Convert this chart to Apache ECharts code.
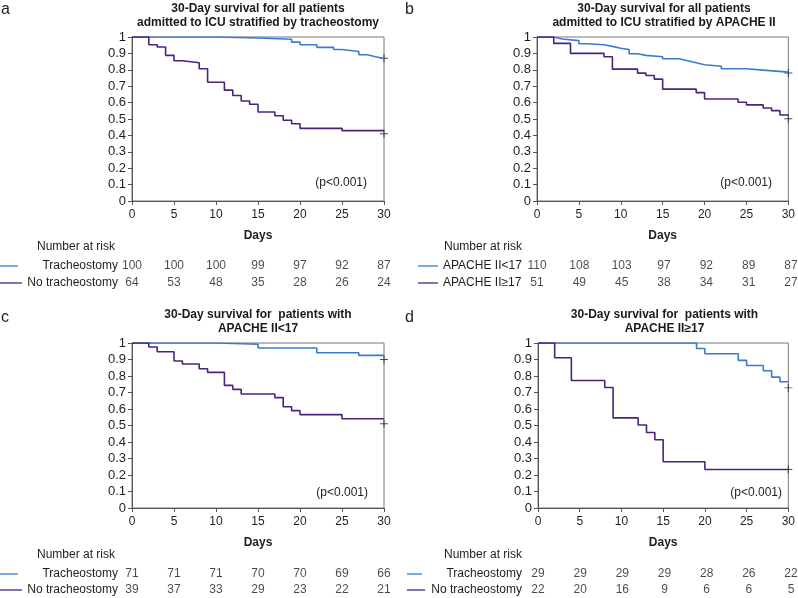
<!DOCTYPE html>
<html><head><meta charset="utf-8">
<script src="https://cdn.jsdelivr.net/npm/echarts@6/dist/echarts.min.js"></script>
<style>html,body{margin:0;padding:0;background:#fff}#c{width:798px;height:598px}</style>
</head><body><div id="c"></div>
<script>
// ---- data ----
const riskDays = [0, 5, 10, 15, 20, 25, 30];
// panel a
const aTrachT = [0, 10, 15, 19, 20, 22, 24, 25, 27, 28, 29, 30];
const aTrachS = [1, 0.994, 0.986, 0.969, 0.953, 0.937, 0.924, 0.912, 0.892, 0.880, 0.869, 0.869];
const aNoT = [0, 2, 3, 4, 5, 6, 8, 9, 11, 12, 13, 14, 15, 17, 18, 19, 20, 25, 30];
const aNoS = [1, 0.953, 0.939, 0.888, 0.855, 0.843, 0.806, 0.724, 0.676, 0.643, 0.61, 0.59, 0.543, 0.52, 0.492, 0.471, 0.443, 0.429, 0.429];
const aCensor = [[30, 0.87], [30, 0.41]];
const aRisk1 = [100, 100, 100, 99, 97, 92, 87];
const aRisk2 = [64, 53, 48, 35, 28, 26, 24];
// panel b
const bLowT = [0, 2, 3, 5, 6, 8, 9, 10, 11, 12, 13, 15, 17, 18, 19, 20, 22, 25, 27, 30];
const bLowS = [1, 0.988, 0.978, 0.959, 0.953, 0.943, 0.931, 0.924, 0.898, 0.888, 0.88, 0.867, 0.855, 0.843, 0.831, 0.822, 0.806, 0.798, 0.786, 0.786];
const bHighT = [0, 2, 4, 8, 9, 12, 13, 14, 15, 19, 20, 24, 25, 27, 28, 29, 30];
const bHighS = [1, 0.961, 0.9, 0.88, 0.804, 0.78, 0.765, 0.743, 0.682, 0.661, 0.622, 0.602, 0.586, 0.567, 0.551, 0.524, 0.524];
const bCensor = [[30, 0.78], [30, 0.502]];
const bRisk1 = [110, 108, 103, 97, 92, 89, 87];
const bRisk2 = [51, 49, 45, 38, 34, 31, 27];
// panel c
const cTrachT = [0, 10, 15, 22, 27, 30];
const cTrachS = [1, 0.992, 0.97, 0.941, 0.925, 0.925];
const cNoT = [0, 2, 3, 5, 6, 8, 9, 11, 12, 13, 17, 18, 19, 20, 25, 30];
const cNoS = [1, 0.976, 0.947, 0.891, 0.873, 0.844, 0.822, 0.743, 0.719, 0.691, 0.669, 0.614, 0.59, 0.566, 0.541, 0.541];
const cCensor = [[30, 0.9], [30, 0.51]];
const cRisk1 = [71, 71, 71, 70, 70, 69, 66];
const cRisk2 = [39, 37, 33, 29, 23, 22, 21];
// panel d
const dTrachT = [0, 19, 20, 24, 25, 27, 28, 29, 30];
const dTrachS = [1, 0.967, 0.935, 0.895, 0.864, 0.832, 0.793, 0.765, 0.765];
const dNoT = [0, 2, 4, 8, 9, 12, 13, 14, 15, 20, 30];
const dNoS = [1, 0.911, 0.773, 0.73, 0.546, 0.503, 0.458, 0.414, 0.28, 0.233, 0.233];
const dCensor = [[30, 0.728], [30, 0.233]];
const dRisk1 = [29, 29, 29, 29, 28, 26, 22];
const dRisk2 = [22, 20, 16, 9, 6, 6, 5];

const titles = [
  '30-Day survival for all patients\nadmitted to ICU stratified by tracheostomy',
  '30-Day survival for all patients\nadmitted to ICU stratified by APACHE II',
  '30-Day survival for  patients with\nAPACHE II<17',
  '30-Day survival for  patients with\nAPACHE II\u226517'
];
const rowLabels = [
  ['Tracheostomy', 'No tracheostomy'],
  ['APACHE II<17', 'APACHE II\u226517'],
  ['Tracheostomy', 'No tracheostomy'],
  ['Tracheostomy', 'No tracheostomy']
];
const letters = ['a', 'b', 'c', 'd'];

// ---- layout ----
const BLUE = '#3a7bd2', PURPLE = '#4b237e', TXT = '#1e1e1e';
const FONT = 'Liberation Sans, Arial, sans-serif';
const panels = [
  {L: 132, T: 37, W: 252, H: 164, rT: 266, rH: 17, pR: 367, pY: 183, curves: [[aTrachT, aTrachS], [aNoT, aNoS]], cens: aCensor, risk: [aRisk1, aRisk2]},
  {L: 537, T: 37, W: 254, H: 164, rT: 266, rH: 17, pR: 772, pY: 183, curves: [[bLowT, bLowS], [bHighT, bHighS]], cens: bCensor, risk: [bRisk1, bRisk2]},
  {L: 132, T: 343, W: 252, H: 165, rT: 574, rH: 16, pR: 368, pY: 493, curves: [[cTrachT, cTrachS], [cNoT, cNoS]], cens: cCensor, risk: [cRisk1, cRisk2]},
  {L: 538, T: 343, W: 253, H: 165, rT: 574, rH: 16, pR: 782, pY: 493, curves: [[dTrachT, dTrachS], [dNoT, dNoS]], cens: dCensor, risk: [dRisk1, dRisk2]}
];

const grid = [], xAxis = [], yAxis = [], series = [], title = [], graphic = [];
const plusPath = 'path://M4.4,0h1.2v4.4h4.4v1.2h-4.4v4.4h-1.2v-4.4h-4.4v-1.2h4.4z';

panels.forEach((p, i) => {
  const gi = grid.length;
  grid.push({left: p.L, top: p.T, width: p.W, height: p.H, show: true, borderColor: '#777', borderWidth: 1, backgroundColor: 'transparent'});
  grid.push({left: p.L, top: p.rT, width: p.W, height: p.rH, show: false});
  xAxis.push({gridIndex: gi, type: 'value', min: 0, max: 30, interval: 5,
    name: 'Days', nameLocation: 'middle', nameGap: 29,
    nameTextStyle: {fontWeight: 'bold', fontSize: 12, color: TXT, fontFamily: FONT},
    axisLine: {lineStyle: {color: '#555'}}, axisTick: {lineStyle: {color: '#555'}, length: 4},
    splitLine: {show: false},
    axisLabel: {fontSize: 12, color: TXT, fontFamily: FONT, margin: 8}});
  xAxis.push({gridIndex: gi + 1, type: 'value', min: 0, max: 30, show: false});
  yAxis.push({gridIndex: gi, type: 'value', min: 0, max: 1, interval: 0.1,
    axisLine: {show: true, lineStyle: {color: '#555'}}, axisTick: {show: true, lineStyle: {color: '#555'}, length: 4},
    splitLine: {show: false},
    axisLabel: {fontSize: 13, color: TXT, fontFamily: FONT, margin: 6,
      formatter: v => String(Math.round(v * 10) / 10)}});
  yAxis.push({gridIndex: gi + 1, type: 'value', min: 0, max: 1, show: false});
  const ax = xAxis.length - 2;
  const colors = [BLUE, PURPLE];
  p.curves.forEach((c, k) => {
    series.push({type: 'line', xAxisIndex: ax, yAxisIndex: ax, step: 'end', symbol: 'none',
      lineStyle: {color: colors[k], width: 1.6}, silent: true, animation: false,
      data: c[0].map((t, j) => [t, c[1][j]])});
  });
  series.push({type: 'scatter', xAxisIndex: ax, yAxisIndex: ax, symbol: plusPath, symbolSize: 8,
    itemStyle: {color: '#222'}, animation: false, data: p.cens});
  p.risk.forEach((r, k) => {
    series.push({type: 'scatter', xAxisIndex: ax + 1, yAxisIndex: ax + 1, symbolSize: 2,
      itemStyle: {color: 'rgba(0,0,0,0)'}, animation: false, silent: true,
      label: {show: true, position: 'inside', formatter: q => String(q.value[2]), fontSize: 12, color: TXT, fontFamily: FONT},
      labelLayout: {hideOverlap: false},
      data: riskDays.map((d, j) => [d, 1 - k, r[j]])});
  });
  title.push({text: titles[i], left: p.L + p.W / 2, top: i < 2 ? 2 : 308, textAlign: 'center', padding: 0,
    textStyle: {fontSize: 12, fontWeight: 'bold', color: '#1a1a1a', lineHeight: 14, fontFamily: FONT}});
  // panel letter
  const lx = i % 2 === 0 ? 1 : 405;
  const ly = i < 2 ? 2 : 310;
  graphic.push({type: 'text', x: lx, y: ly, style: {text: letters[i], font: '16px ' + FONT, fill: TXT}});
  // p-value
  graphic.push({type: 'text', x: p.pR, y: p.pY, style: {text: '(p<0.001)', font: '12px ' + FONT, fill: TXT, textAlign: 'right', textVerticalAlign: 'middle'}});
  // number at risk + row labels + legend keys
  const r1 = p.rT, r2 = p.rT + p.rH;
  if (i === 1) {
    graphic.push({type: 'text', x: 444, y: r1 - 19, style: {text: 'Number at risk', font: '12px ' + FONT, fill: TXT, textVerticalAlign: 'middle'}});
    rowLabels[i].forEach((t, k) => graphic.push({type: 'text', x: 443, y: k ? r2 : r1, style: {text: t, font: '12px ' + FONT, fill: TXT, textVerticalAlign: 'middle'}}));
    graphic.push({type: 'line', shape: {x1: 418, y1: r1, x2: 438, y2: r1}, style: {stroke: BLUE, lineWidth: 1.3}});
    graphic.push({type: 'line', shape: {x1: 418, y1: r2, x2: 438, y2: r2}, style: {stroke: PURPLE, lineWidth: 1.3}});
  } else {
    const rx = i === 3 ? 522 : 118;
    graphic.push({type: 'text', x: i === 3 ? rx : rx - 3, y: r1 - 19, style: {text: 'Number at risk', font: '12px ' + FONT, fill: TXT, textAlign: 'right', textVerticalAlign: 'middle'}});
    rowLabels[i].forEach((t, k) => graphic.push({type: 'text', x: rx, y: k ? r2 : r1, style: {text: t, font: '12px ' + FONT, fill: TXT, textAlign: 'right', textVerticalAlign: 'middle'}}));
    const x0 = i === 3 ? 407 : 0;
    graphic.push({type: 'line', shape: {x1: x0, y1: r1, x2: x0 + (i === 3 ? 15 : 18), y2: r1}, style: {stroke: BLUE, lineWidth: 1.3}});
    graphic.push({type: 'line', shape: {x1: x0, y1: r2, x2: x0 + (i === 3 ? 18 : 22), y2: r2}, style: {stroke: PURPLE, lineWidth: 1.3}});
  }
});

const chart = echarts.init(document.getElementById('c'), null, {renderer: 'canvas'});
chart.setOption({animation: false, backgroundColor: '#fff', title, grid, xAxis, yAxis, series, graphic});
</script></body></html>
